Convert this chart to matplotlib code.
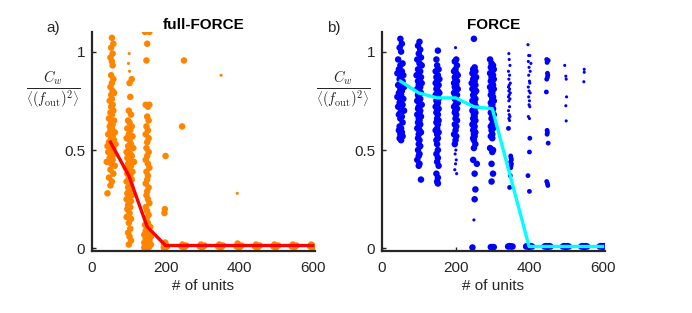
import matplotlib
matplotlib.use("Agg")
import matplotlib.pyplot as plt

plt.rcParams['font.family'] = ['Liberation Sans', 'DejaVu Sans']
plt.rcParams['mathtext.fontset'] = 'cm'

# units tested and median error per network size
n_units = [50, 100, 150, 200, 250, 300, 350, 400, 450, 500, 550, 600]
full_force_med = [0.54, 0.37, 0.11, 0.015, 0.015, 0.015, 0.015, 0.015, 0.015, 0.015, 0.015, 0.015]
force_med = [0.85, 0.79, 0.765, 0.765, 0.72, 0.71, 0.36, 0.01, 0.01, 0.01, 0.01, 0.01]

# full-FORCE individual runs (x = # of units with jitter, y = error)
ff_50 = [(54, 1.07), (58, 1.04), (52, 1.02), (56, 0.99), (50, 0.97), (54, 0.95), (56, 0.93), (52, 0.88),
         (58, 0.86), (54, 0.84), (50, 0.82), (56, 0.80), (60, 0.79), (52, 0.78), (54, 0.76), (48, 0.75),
         (56, 0.73), (52, 0.72), (58, 0.70), (50, 0.69), (54, 0.68), (46, 0.66), (60, 0.65), (52, 0.64),
         (56, 0.63), (48, 0.62), (54, 0.61), (50, 0.60), (62, 0.59), (44, 0.58), (56, 0.57), (52, 0.56),
         (60, 0.55), (46, 0.54), (64, 0.53), (42, 0.52), (54, 0.52), (58, 0.51), (50, 0.50), (44, 0.49),
         (60, 0.48), (54, 0.47), (48, 0.46), (56, 0.45), (40, 0.44), (52, 0.43), (62, 0.42), (50, 0.40),
         (58, 0.38), (46, 0.36), (54, 0.34), (50, 0.32), (42, 0.28)]
ff_100 = [(108, 0.86), (102, 0.84), (104, 0.77), (100, 0.70), (106, 0.68), (98, 0.65), (102, 0.64), (108, 0.62),
          (96, 0.61), (104, 0.60), (100, 0.58), (110, 0.57), (94, 0.56), (102, 0.55), (106, 0.53), (98, 0.52),
          (112, 0.51), (100, 0.50), (94, 0.49), (104, 0.48), (108, 0.47), (96, 0.46), (102, 0.45), (114, 0.44),
          (98, 0.43), (106, 0.42), (92, 0.41), (102, 0.40), (110, 0.39), (96, 0.38), (104, 0.37), (100, 0.36),
          (108, 0.35), (94, 0.34), (102, 0.33), (106, 0.32), (98, 0.31), (104, 0.30), (100, 0.29), (96, 0.28),
          (108, 0.27), (102, 0.26), (94, 0.25), (106, 0.24), (100, 0.23), (98, 0.22), (104, 0.21), (96, 0.20),
          (102, 0.18), (94, 0.16), (106, 0.15), (100, 0.13), (104, 0.10), (98, 0.08), (102, 0.06), (106, 0.04),
          (100, 0.02)]
ff_150 = [(144, 1.10), (156, 1.10), (150, 1.04), (148, 0.955), (146, 0.73), (156, 0.73), (152, 0.72), (150, 0.67),
          (154, 0.65), (148, 0.62), (152, 0.60), (146, 0.58), (154, 0.56), (150, 0.54), (148, 0.51), (154, 0.49),
          (150, 0.47), (146, 0.45), (152, 0.43), (156, 0.41), (148, 0.39), (152, 0.37), (150, 0.35), (146, 0.33),
          (154, 0.31), (150, 0.29), (148, 0.27), (152, 0.25), (156, 0.23), (146, 0.21), (150, 0.19), (154, 0.17),
          (148, 0.15), (152, 0.13), (144, 0.12), (158, 0.11), (150, 0.10), (146, 0.09), (154, 0.08), (142, 0.07),
          (160, 0.06), (150, 0.06), (146, 0.05), (156, 0.04), (142, 0.03), (152, 0.03), (160, 0.02), (146, 0.02),
          (150, 0.01), (156, 0.01), (142, 0.005), (154, 0.005)]
ff_rest = [(200, 0.47), (198, 0.20), (197, 0.18), (199, 0.03), (196, 0.02), (202, 0.015), (199, 0.01), (204, 0.01),
           (195, 0.005), (250, 0.955), (245, 0.62),
           (246, 0.02), (253, 0.01), (250, 0.005), (256, 0.015), (243, 0.01),
           (296, 0.02), (303, 0.01), (300, 0.005), (306, 0.015), (293, 0.01),
           (346, 0.02), (353, 0.01), (350, 0.005), (356, 0.015), (343, 0.01),
           (396, 0.025), (403, 0.01), (400, 0.005), (406, 0.015), (393, 0.01),
           (446, 0.02), (453, 0.01), (450, 0.005), (456, 0.015), (443, 0.01),
           (496, 0.02), (503, 0.01), (500, 0.005), (506, 0.015), (493, 0.01),
           (546, 0.02), (553, 0.01), (550, 0.005), (556, 0.015), (543, 0.01),
           (596, 0.02), (603, 0.01), (600, 0.005), (598, 0.015), (593, 0.01)]
ff_small = [(101, 0.99), (99, 0.94), (102, 0.90), (351, 0.88), (395, 0.28)]

# FORCE individual runs
fo_50 = [(50, 1.065), (54, 1.04), (48, 1.02), (52, 1.00), (44, 0.96), (56, 0.94), (50, 0.93), (46, 0.91),
         (54, 0.90), (42, 0.89), (58, 0.88), (50, 0.87), (48, 0.86), (56, 0.85), (52, 0.84), (44, 0.83),
         (60, 0.82), (50, 0.81), (54, 0.80), (46, 0.79), (52, 0.78), (42, 0.77), (58, 0.76), (50, 0.75),
         (48, 0.74), (56, 0.73), (44, 0.72), (52, 0.71), (60, 0.70), (50, 0.69), (46, 0.68), (54, 0.67),
         (50, 0.66), (56, 0.64), (48, 0.62), (52, 0.61), (46, 0.60), (54, 0.59), (50, 0.58), (56, 0.57),
         (48, 0.56), (52, 0.55)]
fo_100 = [(102, 1.05), (98, 1.03), (104, 1.01), (100, 0.99), (106, 0.97), (96, 0.96), (102, 0.94), (108, 0.93),
          (98, 0.91), (104, 0.90), (100, 0.89), (94, 0.88), (106, 0.87), (102, 0.86), (98, 0.85), (108, 0.84),
          (100, 0.83), (104, 0.82), (96, 0.81), (102, 0.80), (106, 0.79), (98, 0.78), (100, 0.77), (104, 0.76),
          (96, 0.75), (102, 0.74), (108, 0.73), (100, 0.72), (98, 0.71), (104, 0.70), (102, 0.69), (96, 0.68),
          (106, 0.67), (100, 0.66), (102, 0.65), (98, 0.64), (104, 0.63), (100, 0.62), (96, 0.61), (102, 0.60),
          (106, 0.59), (100, 0.58), (98, 0.56), (102, 0.55), (100, 0.53), (104, 0.52), (98, 0.50), (102, 0.48),
          (100, 0.47), (96, 0.45), (102, 0.43), (100, 0.42), (106, 0.35)]
fo_150 = [(152, 1.005), (148, 0.96), (150, 0.93), (154, 0.91), (146, 0.90), (152, 0.88), (148, 0.87), (156, 0.86),
          (150, 0.85), (146, 0.84), (154, 0.83), (150, 0.82), (148, 0.81), (152, 0.80), (156, 0.79), (146, 0.78),
          (150, 0.77), (154, 0.76), (148, 0.75), (152, 0.74), (150, 0.73), (146, 0.72), (154, 0.71), (150, 0.70),
          (148, 0.69), (152, 0.68), (150, 0.66), (154, 0.65), (148, 0.64), (152, 0.63), (150, 0.61), (146, 0.60),
          (154, 0.59), (150, 0.58), (152, 0.56), (148, 0.55), (150, 0.53), (152, 0.50), (148, 0.48), (152, 0.46),
          (150, 0.44), (154, 0.42), (148, 0.38), (152, 0.36), (150, 0.34), (152, 0.33)]
fo_200 = [(202, 0.96), (198, 0.95), (204, 0.93), (200, 0.91), (196, 0.90), (202, 0.89), (206, 0.88), (198, 0.87),
          (200, 0.86), (204, 0.85), (196, 0.84), (202, 0.83), (198, 0.82), (206, 0.81), (200, 0.80), (196, 0.79),
          (204, 0.78), (200, 0.77), (198, 0.76), (202, 0.75), (206, 0.74), (200, 0.73), (196, 0.72), (204, 0.71),
          (200, 0.70), (198, 0.69), (202, 0.68), (200, 0.66), (204, 0.65), (198, 0.63), (202, 0.62), (200, 0.60),
          (196, 0.58), (202, 0.57), (200, 0.55), (198, 0.53)]
fo_250 = [(250, 1.065), (252, 0.92), (248, 0.91), (254, 0.90), (246, 0.89), (250, 0.88), (256, 0.87), (248, 0.86),
          (252, 0.85), (244, 0.84), (254, 0.83), (250, 0.82), (246, 0.81), (256, 0.80), (252, 0.79), (248, 0.78),
          (250, 0.77), (254, 0.76), (246, 0.75), (252, 0.74), (248, 0.73), (256, 0.72), (250, 0.71), (246, 0.70),
          (254, 0.69), (250, 0.68), (252, 0.67), (248, 0.66), (254, 0.65), (250, 0.64), (246, 0.63), (252, 0.62),
          (250, 0.61), (248, 0.60), (254, 0.59), (250, 0.58), (252, 0.57), (248, 0.56), (250, 0.55), (254, 0.53),
          (250, 0.51), (248, 0.45), (258, 0.43), (252, 0.38), (254, 0.30), (252, 0.25)]
fo_300 = [(294, 0.96), (298, 0.94), (302, 0.93), (296, 0.92), (304, 0.91), (300, 0.90), (294, 0.89), (302, 0.88),
          (298, 0.87), (304, 0.86), (296, 0.85), (300, 0.84), (302, 0.83), (294, 0.82), (304, 0.81), (298, 0.80),
          (300, 0.79), (296, 0.78), (302, 0.77), (300, 0.76), (304, 0.75), (296, 0.74), (300, 0.73), (298, 0.72),
          (302, 0.71), (300, 0.70), (296, 0.69), (304, 0.68), (300, 0.67), (298, 0.66), (302, 0.64), (300, 0.63),
          (296, 0.62), (302, 0.61), (298, 0.60), (300, 0.58), (296, 0.57), (300, 0.56), (294, 0.51), (302, 0.50),
          (300, 0.49), (298, 0.43), (302, 0.38), (298, 0.34)]
fo_mid = [(344, 0.61), (350, 0.47), (351, 0.46), (352, 0.45), (350, 0.44), (352, 0.43), (351, 0.42), (350, 0.41),
          (349, 0.37), (347, 0.31), (402, 0.56), (401, 0.49), (397, 0.37), (401, 0.29),
          (448, 0.96), (452, 0.955), (449, 0.945), (450, 0.89), (451, 0.88), (450, 0.87), (448, 0.86),
          (449, 0.60), (450, 0.59), (449, 0.58), (452, 0.535), (447, 0.795), (448, 0.34), (450, 0.33), (451, 0.32)]
fo_small = [(200, 1.02), (201, 0.50), (199, 0.48), (202, 0.45), (200, 0.43), (198, 0.40), (203, 0.38), (250, 0.145),
            (345, 0.99), (346, 0.96), (348, 0.93), (344, 0.90), (347, 0.88), (345, 0.86), (349, 0.84), (346, 0.83),
            (344, 0.82), (347, 0.81), (345, 0.80), (349, 0.79), (346, 0.78), (344, 0.77), (348, 0.76), (345, 0.75),
            (347, 0.72), (344, 0.70), (346, 0.68), (348, 0.67), (345, 0.66), (347, 0.65),
            (397, 1.035), (399, 0.98), (402, 0.98), (398, 0.95), (405, 0.94), (400, 0.92), (403, 0.90), (399, 0.88),
            (401, 0.85), (402, 0.84), (398, 0.82), (400, 0.80), (403, 0.79), (399, 0.77), (401, 0.75), (400, 0.73),
            (402, 0.72), (398, 0.67), (401, 0.66),
            (497, 0.93), (500, 0.875), (501, 0.86), (502, 0.77), (500, 0.725), (501, 0.648),
            (550, 0.91), (550, 0.895), (549, 0.847)]
fo_zero = [(246, 0.005), (296, 0.007), (300, 0.007), (304, 0.007),
           (343, 0.01), (347, 0.012), (351, 0.01), (355, 0.01),
           (392, 0.01), (396, 0.012), (400, 0.008), (404, 0.012), (408, 0.01),
           (442, 0.01), (446, 0.012), (450, 0.008), (454, 0.012), (458, 0.01),
           (492, 0.01), (496, 0.012), (500, 0.008), (504, 0.012), (508, 0.01),
           (542, 0.01), (546, 0.012), (550, 0.008), (554, 0.012), (558, 0.01),
           (592, 0.01), (596, 0.012), (600, 0.008), (604, 0.012)]

ORANGE = "#ff8500"
BLUE = "#0000ff"
AX_COL = "#262626"


def scat(ax, pts, color, s):
    xs = [p[0] for p in pts]
    ys = [p[1] for p in pts]
    ax.scatter(xs, ys, s=s, color=color, edgecolors="none", zorder=2)


def style(ax, title, letter, letter_x):
    ax.set_xlim(0, 606)
    ax.set_ylim(-0.013, 1.1)
    ax.set_xticks([0, 200, 400, 600])
    ax.set_yticks([0, 0.5, 1])
    ax.set_yticklabels(["0", "0.5", "1"])
    for sp in ["top", "right"]:
        ax.spines[sp].set_visible(False)
    for sp in ["left", "bottom"]:
        ax.spines[sp].set_linewidth(1.6)
        ax.spines[sp].set_color(AX_COL)
    ax.tick_params(direction="in", length=3, width=1, colors=AX_COL, labelsize=11)
    ax.tick_params(axis="x", pad=7)
    ax.tick_params(axis="y", pad=5)
    ax.set_xlabel("# of units", fontsize=11, color=AX_COL, labelpad=3)
    ax.set_title(title, fontsize=11, fontweight="bold", pad=2)
    ax.set_ylabel(r"$\frac{C_w}{\left\langle (f_{\mathrm{out}})^2 \right\rangle}$",
                  rotation=0, fontsize=15, color=AX_COL, va="center", ha="center")
    ax.yaxis.set_label_coords(-0.175, 0.735)
    ax.text(letter_x, 1.02, letter, transform=ax.transAxes, fontsize=11, color=AX_COL,
            ha="center", va="center")


fig = plt.figure(figsize=(6.92, 3.13), dpi=100)
ax1 = fig.add_axes([0.133, 0.198, 0.322, 0.70])
ax2 = fig.add_axes([0.552, 0.198, 0.322, 0.70])

for pts in [ff_50, ff_100, ff_150, ff_rest]:
    scat(ax1, pts, ORANGE, 22)
scat(ax1, ff_small, ORANGE, 5)
ax1.plot(n_units, full_force_med, color="#ff0000", lw=2.4, zorder=3)
style(ax1, "full-FORCE", "a)", -0.173)

for pts in [fo_50, fo_100, fo_150, fo_200, fo_250, fo_300, fo_zero]:
    scat(ax2, pts, BLUE, 22)
scat(ax2, fo_mid, BLUE, 12)
scat(ax2, fo_small, BLUE, 5)
ax2.plot(n_units, force_med, color="#00ffff", lw=2.4, zorder=3)
style(ax2, "FORCE", "b)", -0.216)

fig.savefig("out.png", dpi=100)
